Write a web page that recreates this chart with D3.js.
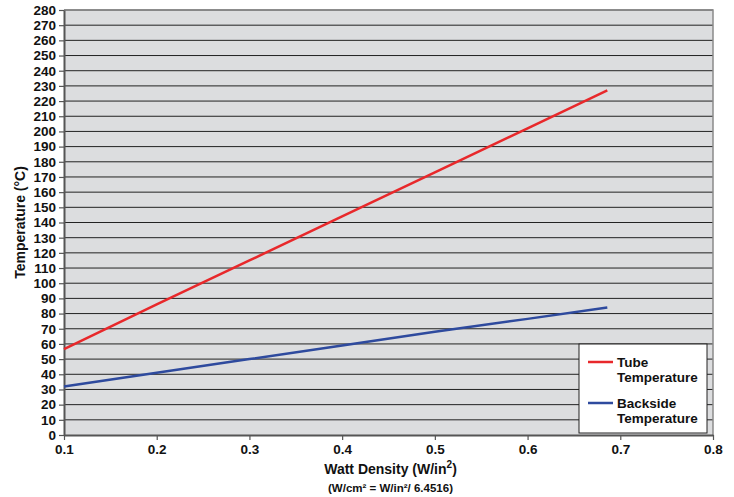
<!DOCTYPE html>
<html>
<head>
<meta charset="utf-8">
<script src="https://cdn.jsdelivr.net/npm/d3@7"></script>
<style>
  body { margin: 0; background: #fff; }
  svg text { font-family: "Liberation Sans", Arial, sans-serif; font-weight: bold; fill: #111; }
</style>
</head>
<body>
<svg id="chart" width="734" height="497"></svg>
<script>
// values
const wattDensity = [0.1, 0.2, 0.3, 0.4, 0.5, 0.6, 0.686];
const tubeTemp = [56.5, 86, 115, 144, 173, 202, 227];
const backsideTemp = [32, 41, 50, 59, 68, 76.5, 84];
const xTicks = [0.1, 0.2, 0.3, 0.4, 0.5, 0.6, 0.7, 0.8];
const yTicks = d3.range(0, 281, 10);
const seriesNames = ["Tube Temperature", "Backside Temperature"];
const seriesColors = ["#e8282b", "#2e4a9e"];

const svg = d3.select("#chart");
const margin = {left: 64, right: 21, top: 10, bottom: 62};
const width = 734 - margin.left - margin.right;
const height = 497 - margin.top - margin.bottom;

const x = d3.scaleLinear().domain([0.1, 0.8]).range([0, width]);
const y = d3.scaleLinear().domain([0, 280]).range([height, 0]);

const g = svg.append("g").attr("transform", `translate(${margin.left},${margin.top})`);

g.append("rect")
    .attr("width", width).attr("height", height)
    .attr("fill", "#dcdddf");

// horizontal grid
g.selectAll(".grid").data(yTicks.filter(d => d > 0)).join("line")
    .attr("x1", 0).attr("x2", width)
    .attr("y1", d => y(d)).attr("y2", d => y(d))
    .attr("stroke", "#222").attr("stroke-width", 1);

// right / top border
g.append("path")
    .attr("d", `M0,0H${width}V${height}`)
    .attr("fill", "none").attr("stroke", "#8a8a8a").attr("stroke-width", 1.5);

const yAxis = g.append("g")
    .call(d3.axisLeft(y).tickValues(yTicks).tickSize(5).tickSizeOuter(0).tickPadding(3));
const xAxis = g.append("g").attr("transform", `translate(0,${height})`)
    .call(d3.axisBottom(x).tickValues(xTicks).tickFormat(d3.format(".1f")).tickSize(5).tickSizeOuter(0).tickPadding(4));

[yAxis, xAxis].forEach(a => {
    a.select(".domain").attr("stroke", "#555").attr("stroke-width", 2);
    a.selectAll(".tick line").attr("stroke", "#555").attr("stroke-width", 1.2);
    a.selectAll("text").style("font-size", "13.5px").attr("fill", "#111");
});

// series lines
const line = d3.line().x(d => x(d[0])).y(d => y(d[1]));
[tubeTemp, backsideTemp].forEach((vals, i) => {
    g.append("path")
        .datum(wattDensity.map((w, j) => [w, vals[j]]))
        .attr("d", line)
        .attr("fill", "none")
        .attr("stroke", seriesColors[i])
        .attr("stroke-width", 2.5);
});

// legend
const legend = svg.append("g").attr("transform", "translate(579,344)");
legend.append("rect").attr("width", 128).attr("height", 89)
    .attr("fill", "#fff").attr("stroke", "#222").attr("stroke-width", 1);
seriesNames.forEach((name, i) => {
    const row = legend.append("g").attr("transform", `translate(0,${10 + i * 41})`);
    row.append("line").attr("x1", 9).attr("x2", 34).attr("y1", 8).attr("y2", 8)
        .attr("stroke", seriesColors[i]).attr("stroke-width", 2.5);
    const words = name.split(" ");
    words.forEach((w, k) => {
        row.append("text").attr("x", 38).attr("y", 13 + k * 15)
            .style("font-size", "13.5px").text(w);
    });
});

// axis titles
svg.append("text")
    .attr("transform", `translate(25,${margin.top + height / 2}) rotate(-90)`)
    .attr("text-anchor", "middle")
    .style("font-size", "14px")
    .text("Temperature (°C)");

const xt = svg.append("text")
    .attr("x", margin.left + width / 2 + 2).attr("y", 474)
    .attr("text-anchor", "middle")
    .style("font-size", "14px");
xt.append("tspan").text("Watt Density (W/in");
xt.append("tspan").attr("dy", -6).style("font-size", "10px").text("2");
xt.append("tspan").attr("dy", 6).text(")");

svg.append("text")
    .attr("x", margin.left + width / 2 + 2).attr("y", 492)
    .attr("text-anchor", "middle")
    .style("font-size", "11.5px")
    .text("(W/cm² = W/in²/ 6.4516)");
</script>
</body>
</html>
